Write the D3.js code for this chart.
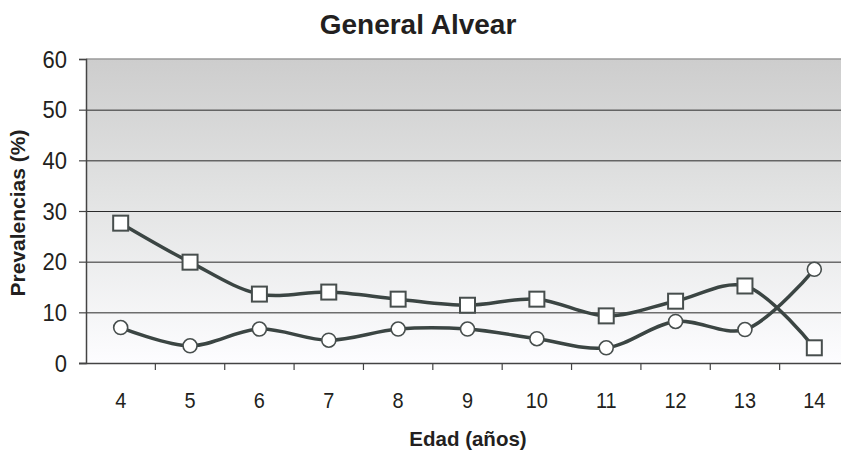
<!DOCTYPE html>
<html>
<head>
<meta charset="utf-8">
<script src="https://cdn.jsdelivr.net/npm/d3@7/dist/d3.min.js"></script>
<style>
  html, body { margin: 0; padding: 0; background: #fff; }
  svg { display: block; font-family: "Liberation Sans", Arial, sans-serif; }
</style>
</head>
<body>
<svg id="chart" width="841" height="451"></svg>
<script>
// Prevalence by age, two series
const ages = ["4", "5", "6", "7", "8", "9", "10", "11", "12", "13", "14"];
const squareSeries = [27.6, 19.9, 13.6, 14.0, 12.6, 11.4, 12.6, 9.3, 12.2, 15.2, 3.0];
const circleSeries = [7.0, 3.4, 6.7, 4.5, 6.7, 6.7, 4.8, 3.0, 8.2, 6.6, 18.5];
const yTicks = [0, 10, 20, 30, 40, 50, 60];

const title = "General Alvear";
const xTitle = "Edad (años)";
const yTitle = "Prevalencias (%)";

const svg = d3.select("#chart");
const W = 841, H = 451;
const plot = { left: 86, right: 849, top: 59, bottom: 363 };

const x = d3.scaleBand().domain(ages).range([plot.left, plot.right]);
const y = d3.scaleLinear().domain([0, 60]).range([plot.bottom, plot.top]);

// Plot background: grey at the top fading to white
const defs = svg.append("defs");
const grad = defs.append("linearGradient")
  .attr("id", "bg").attr("x1", 0).attr("y1", 0).attr("x2", 0).attr("y2", 1);
grad.append("stop").attr("offset", "0%").attr("stop-color", "#cdcdcd");
grad.append("stop").attr("offset", "45%").attr("stop-color", "#e2e3e3");
grad.append("stop").attr("offset", "100%").attr("stop-color", "#fdfdff");

defs.append("clipPath").attr("id", "clip")
  .append("rect").attr("x", 0).attr("y", 0).attr("width", W).attr("height", H);

const g = svg.append("g").attr("clip-path", "url(#clip)");

g.append("rect")
  .attr("x", plot.left).attr("y", plot.top)
  .attr("width", plot.right - plot.left).attr("height", plot.bottom - plot.top)
  .attr("fill", "url(#bg)");

// Horizontal gridlines
g.append("g").selectAll("line")
  .data(yTicks.filter(d => d > 0 && d < 60))
  .join("line")
  .attr("x1", plot.left).attr("x2", plot.right)
  .attr("y1", d => y(d) + 0.5).attr("y2", d => y(d) + 0.5)
  .attr("stroke", "#2a2a2a").attr("stroke-width", 1);

// Top border of plot area
g.append("line")
  .attr("x1", plot.left).attr("x2", plot.right)
  .attr("y1", y(60)).attr("y2", y(60))
  .attr("stroke", "#9a9a9a").attr("stroke-width", 1.5);

// Y axis
const yAxis = d3.axisLeft(y).tickValues(yTicks).tickSize(7).tickPadding(12);
const yg = g.append("g").attr("transform", `translate(${plot.left},0)`).call(yAxis);
yg.select(".domain").attr("stroke", "#444").attr("stroke-width", 1.5);
yg.selectAll(".tick line").attr("stroke", "#444").attr("stroke-width", 1.2);
yg.selectAll(".tick text")
  .attr("font-size", 22).attr("fill", "#231f20")
  .attr("font-family", "Liberation Sans, Arial, sans-serif")
  .attr("dy", null).attr("y", 0)
  .attr("transform", "translate(0,8) scale(1,1.12)");

// X axis: ticks on category boundaries
const xg = g.append("g").attr("transform", `translate(0,${plot.bottom})`);
xg.append("line")
  .attr("x1", plot.left - 7).attr("x2", plot.right)
  .attr("y1", 0.5).attr("y2", 0.5)
  .attr("stroke", "#444").attr("stroke-width", 1.5);
xg.selectAll("line.tk")
  .data(ages.slice(1))
  .join("line").attr("class", "tk")
  .attr("x1", d => x(d)).attr("x2", d => x(d))
  .attr("y1", 0).attr("y2", 7)
  .attr("stroke", "#444").attr("stroke-width", 1.2);
xg.selectAll("text")
  .data(ages)
  .join("text")
  .attr("transform", d => `translate(${x(d) + x.bandwidth() / 2},45) scale(0.95,1.05)`)
  .attr("text-anchor", "middle")
  .attr("font-size", 21).attr("fill", "#231f20")
  .text(d => d);

// Smoothed series lines
const line = d3.line()
  .x((d, i) => x(ages[i]) + x.bandwidth() / 2)
  .y(d => y(d))
  .curve(d3.curveCatmullRom.alpha(0.5));

const lineColor = "#3b4543";
[squareSeries, circleSeries].forEach(s => {
  g.append("path")
    .attr("d", line(s))
    .attr("fill", "none")
    .attr("stroke", lineColor)
    .attr("stroke-width", 3.5)
    .attr("stroke-linejoin", "round");
});

// Markers
const sq = 15;
g.append("g").selectAll("rect")
  .data(squareSeries)
  .join("rect")
  .attr("x", (d, i) => x(ages[i]) + x.bandwidth() / 2 - sq / 2)
  .attr("y", d => y(d) - sq / 2)
  .attr("width", sq).attr("height", sq)
  .attr("fill", "#fff").attr("stroke", "#474e4d").attr("stroke-width", 2);

g.append("g").selectAll("circle")
  .data(circleSeries)
  .join("circle")
  .attr("cx", (d, i) => x(ages[i]) + x.bandwidth() / 2)
  .attr("cy", d => y(d))
  .attr("r", 7)
  .attr("fill", "#fff").attr("stroke", "#474e4d").attr("stroke-width", 1.6);

// Titles
svg.append("text")
  .attr("x", 418).attr("y", 34)
  .attr("text-anchor", "middle")
  .attr("font-size", 28).attr("font-weight", "bold").attr("fill", "#231f20")
  .text(title);

svg.append("text")
  .attr("x", 468).attr("y", 446)
  .attr("text-anchor", "middle")
  .attr("font-size", 20.5).attr("font-weight", "bold").attr("fill", "#231f20")
  .text(xTitle);

svg.append("text")
  .attr("transform", "rotate(-90)")
  .attr("x", -213).attr("y", 25)
  .attr("text-anchor", "middle")
  .attr("font-size", 21).attr("font-weight", "bold").attr("fill", "#231f20")
  .text(yTitle);
</script>
</body>
</html>
